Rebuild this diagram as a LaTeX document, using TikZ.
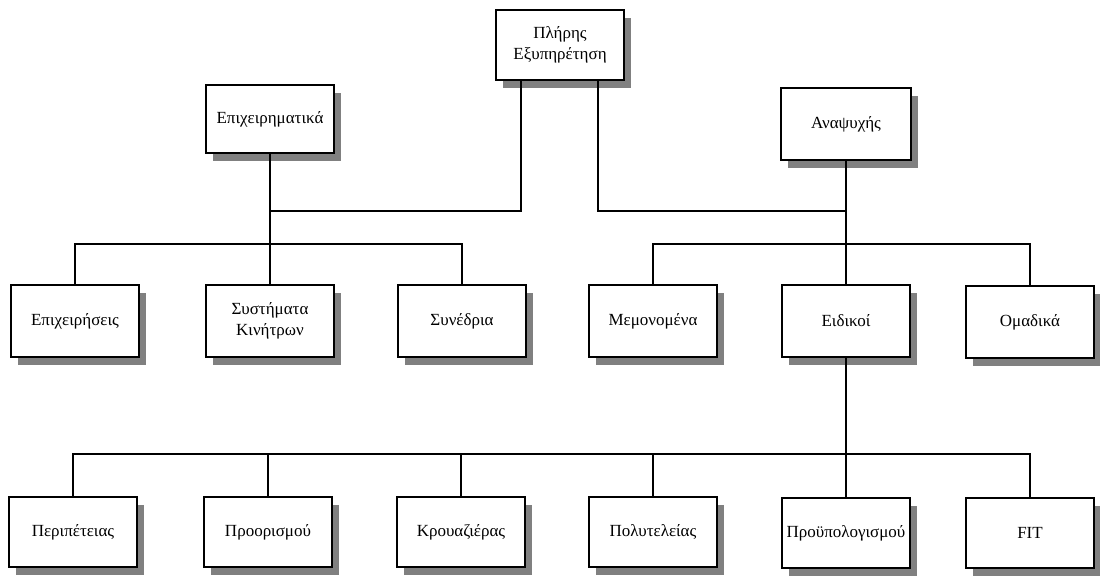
\documentclass[tikz,border=0pt]{standalone}
\usepackage{fontspec}
\setmainfont{Liberation Serif}
\usetikzlibrary{shadows}
\begin{document}
\begin{tikzpicture}[x=1pt,y=-1pt,
  box/.style={draw=black, line width=1.4pt, fill=white, minimum width=128pt, minimum height=70pt,
    inner sep=2pt, align=center, font=\fontsize{17}{21}\selectfont,
    drop shadow={shadow xshift=7pt, shadow yshift=-8pt, fill=black!50, opacity=1}},
  conn/.style={draw=black, line width=1.4pt}]
\useasboundingbox (0,0) rectangle (1100,577);
\fill[white] (0,0) rectangle (1100,577);
% level 0 and 1
\node[box] (top) at (560,45) {Πλήρης\\Εξυπηρέτηση};
\node[box, minimum height=68pt] (biz) at (270,119) {Επιχειρηματικά};
\node[box, minimum width=130pt, minimum height=72pt] (lei) at (846,124) {Αναψυχής};
% level 2
\node[box, minimum height=72pt] (epx) at (75,321) {Επιχειρήσεις};
\node[box, minimum height=72pt] (sys) at (270,321) {Συστήματα\\Κινήτρων};
\node[box, minimum height=72pt] (syn) at (462,321) {Συνέδρια};
\node[box, minimum height=72pt] (mem) at (653,321) {Μεμονομένα};
\node[box, minimum height=72pt] (eid) at (846,321) {Ειδικοί};
\node[box, minimum height=72pt] (oma) at (1030,322) {Ομαδικά};
% level 3
\node[box] (per) at (73,532) {Περιπέτειας};
\node[box] (pro) at (268,532) {Προορισμού};
\node[box] (kro) at (461,532) {Κρουαζιέρας};
\node[box] (pol) at (653,532) {Πολυτελείας};
\node[box] (pry) at (846,533) {Προϋπολογισμού};
\node[box] (fit) at (1030,533) {FIT};
% bus coordinates
\coordinate (j1) at (521,211);
\coordinate (j2) at (598,211);
\coordinate (b2) at (0,244);
\coordinate (b3) at (0,454);
% connectors
\draw[conn] (top.south -| j1) -- (j1) -| (biz.south);
\draw[conn] (top.south -| j2) -- (j2) -| (lei.south);
\draw[conn] (biz.south) -- (sys.north);
\draw[conn] (epx.north) -- (epx.north |- b2) -- (syn.north |- b2) -- (syn.north);
\draw[conn] (lei.south) -- (eid.north);
\draw[conn] (mem.north) -- (mem.north |- b2) -- (oma.north |- b2) -- (oma.north);
\draw[conn] (eid.south) -- (pry.north);
\draw[conn] (per.north) -- (per.north |- b3) -- (fit.north |- b3) -- (fit.north);
\draw[conn] (pro.north) -- (pro.north |- b3);
\draw[conn] (kro.north) -- (kro.north |- b3);
\draw[conn] (pol.north) -- (pol.north |- b3);
\end{tikzpicture}
\end{document}
